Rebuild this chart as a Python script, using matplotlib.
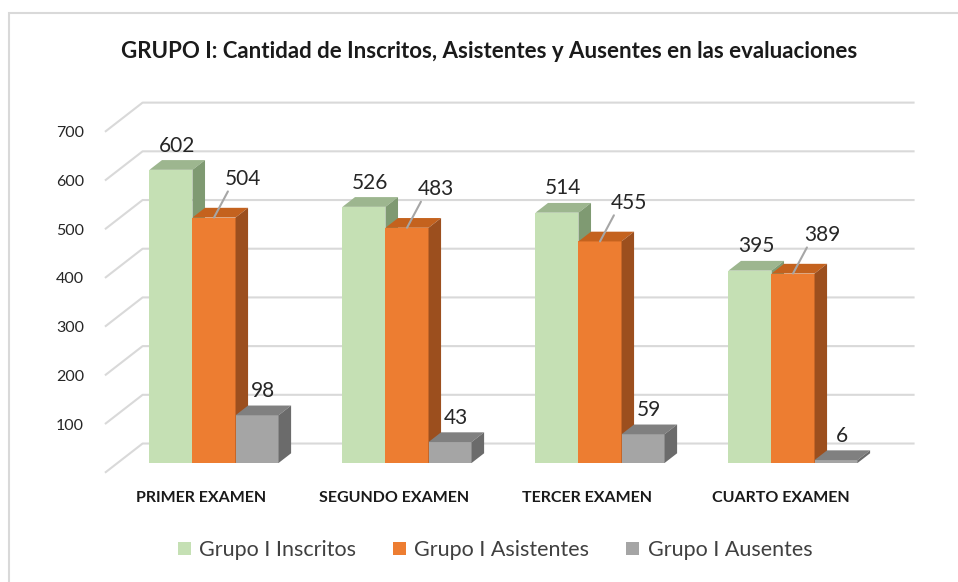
import matplotlib.pyplot as plt
from matplotlib.patches import Polygon, Rectangle, Patch
import numpy as np

plt.rcParams['font.family'] = ['Lato', 'DejaVu Sans']

examenes = ["PRIMER EXAMEN", "SEGUNDO EXAMEN", "TERCER EXAMEN", "CUARTO EXAMEN"]
inscritos = [602, 526, 514, 395]
asistentes = [504, 483, 455, 389]
ausentes = [98, 43, 59, 6]
nombres = ["Grupo I Inscritos", "Grupo I Asistentes", "Grupo I Ausentes"]
y_ticks = [100, 200, 300, 400, 500, 600, 700]

# front, top, side colours per series
colores = [("#C5E0B4", "#9DB68F", "#7F9A72"),
           ("#ED7D31", "#C4621E", "#9C4F1E"),
           ("#A5A5A5", "#808080", "#6B6B6B")]

W, H = 958, 582
fig = plt.figure(figsize=(W / 100, H / 100), dpi=100)

# axes box in pixels, x0 = bar front plane of category 0
px_cat = 193.0
px_val = 0.487
x0_px, y0_px = 117.5, 463.0
left, right, top, bottom = 95, 930, 95, 480
ax = fig.add_axes([left / W, (H - bottom) / H, (right - left) / W, (bottom - top) / H])
ax.set_xlim((left - x0_px) / px_cat, (right - x0_px) / px_cat)
ax.set_ylim(-(bottom - y0_px) / px_val, (y0_px - top) / px_val)
for s in ax.spines.values():
    s.set_visible(False)

# oblique depth of one bar (x in categories, y in values)
dx, dy = 0.065, 20.0
n = len(examenes)

# back wall / floor gridlines
for v in range(0, 800, 100):
    ax.plot([-dx, 2 * dx, n + 2 * dx], [v - dy, v + 2 * dy, v + 2 * dy],
            color="#D9D9D9", lw=1.5, zorder=1, solid_capstyle="butt")

w = 0.223
series = [inscritos, asistentes, ausentes]
for k, vals in enumerate(series):
    front, topc, side = colores[k]
    xs = np.arange(n) + 0.5 + (k - 1.5) * w
    ax.bar(xs, vals, width=w, align="edge", color=front, zorder=3 + k, linewidth=0)
    for x, v in zip(xs, vals):
        ax.add_patch(Polygon([(x, v), (x + w, v), (x + w + dx, v + dy), (x + dx, v + dy)],
                             closed=True, facecolor=topc, edgecolor="none", zorder=3 + k))
        ax.add_patch(Polygon([(x + w, 0), (x + w, v), (x + w + dx, v + dy), (x + w + dx, dy)],
                             closed=True, facecolor=side, edgecolor="none", zorder=3 + k))
        cx = x + w / 2
        if k == 1:
            ax.annotate(str(v), (cx, v), xytext=(21, 28), textcoords="offset points",
                        ha="center", va="center", fontsize=15, color="#262626", zorder=10,
                        arrowprops=dict(arrowstyle="-", color="#A6A6A6", lw=1.5,
                                        relpos=(0.15, 0.1), shrinkA=0, shrinkB=0))
        else:
            ax.annotate(str(v), (cx + dx / 2, v + dy / 2), xytext=(0, 14),
                        textcoords="offset points", ha="center", va="center",
                        fontsize=15, color="#262626", zorder=10)

ax.set_xticks(np.arange(n) + 0.5 - dx, examenes, fontweight="bold", fontsize=11.5, color="#1A1A1A")
ax.set_yticks([v - dy for v in y_ticks], [str(v) for v in y_ticks], fontsize=11.5, color="#262626")
ax.tick_params(axis="both", length=0)
ax.tick_params(axis="x", pad=8)
ax.tick_params(axis="y", pad=8)

fig.text(489 / W, 1 - 51 / H, "GRUPO I: Cantidad de Inscritos, Asistentes y Ausentes en las evaluaciones",
         ha="center", va="center", fontsize=16, fontweight="bold", color="#1A1A1A")

handles = [Patch(facecolor=c[0], edgecolor="none") for c in colores]
fig.legend(handles, nombres, loc="center", bbox_to_anchor=(495 / W, 1 - 550 / H), ncol=3,
           frameon=False, fontsize=15.5, handlelength=0.6, handleheight=0.6,
           handletextpad=0.4, columnspacing=1.7, labelcolor="#404040")

fig.add_artist(Rectangle((9 / W, -0.1), 1.0, 1 - 13 / H + 0.1, transform=fig.transFigure,
                         fill=False, edgecolor="#D9D9D9", lw=1.5))

fig.savefig("out.png", dpi=100)
